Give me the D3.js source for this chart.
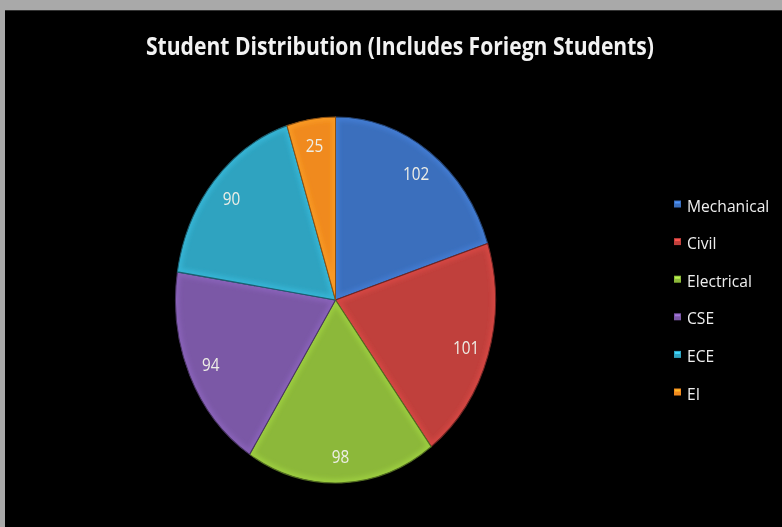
<!DOCTYPE html>
<html>
<head>
<meta charset="utf-8">
<script src="https://cdn.jsdelivr.net/npm/d3@7/dist/d3.min.js"></script>
<style>
  html, body { margin: 0; padding: 0; background: #a9a9a9; }
  svg { display: block; }
</style>
</head>
<body>
<svg id="chart" width="782" height="527"></svg>
<script>
const categories = ["Mechanical", "Civil", "Electrical", "CSE", "ECE", "EI"];
const values = [102, 101, 98, 94, 90, 25];
const colors = ["#3b6fbd", "#c0403c", "#8cb83a", "#7b58a6", "#2fa3c0", "#f08a1e"];
const titleText = "Student Distribution (Includes Foriegn Students)";

const W = 782, H = 527;
const FONT = "'Open Sans', sans-serif";
const svg = d3.select("#chart");

// chart area background
svg.append("rect").attr("x", 0).attr("y", 0).attr("width", W).attr("height", H).attr("fill", "#a9a9a9");
svg.append("rect").attr("x", 5).attr("y", 10).attr("width", W - 5).attr("height", H - 10).attr("fill", "#000");
svg.append("line").attr("x1", 5).attr("x2", W).attr("y1", 10.5).attr("y2", 10.5).attr("stroke", "#333").attr("stroke-width", 1);

const defs = svg.append("defs");
const blur = defs.append("filter").attr("id", "soft").attr("x", "-10%").attr("y", "-10%").attr("width", "120%").attr("height", "120%");
blur.append("feGaussianBlur").attr("stdDeviation", 2);
const textSoft = defs.append("filter").attr("id", "textSoft");
textSoft.append("feGaussianBlur").attr("stdDeviation", 0.35);

// title
svg.append("text")
  .attr("x", 400).attr("y", 55)
  .attr("text-anchor", "middle")
  .attr("fill", "#f2f2f2")
  .attr("font-family", FONT)
  .attr("font-weight", "bold")
  .attr("font-size", 25)
  .attr("textLength", 508)
  .attr("lengthAdjust", "spacingAndGlyphs")
  .attr("filter", "url(#textSoft)")
  .text(titleText);

// pie, drawn as a circle then stretched vertically
const cx = 335.5, cy = 300, r = 160, yScale = 183 / 160;
const pie = d3.pie().sort(null).value(d => d)(values);
const arc = d3.arc().innerRadius(0).outerRadius(r);
const labelArc = d3.arc().innerRadius(137).outerRadius(137);

const g = svg.append("g").attr("transform", `translate(${cx},${cy}) scale(1,${yScale})`);

pie.forEach((p, i) => {
  const clipId = "clip" + i;
  defs.append("clipPath").attr("id", clipId).append("path").attr("d", arc(p));
  const base = d3.color(colors[i]);
  g.append("path").attr("d", arc(p)).attr("fill", base.toString());
  // soft lighter bevel along the slice edges
  g.append("g").attr("clip-path", `url(#${clipId})`)
    .append("path").attr("d", arc(p))
    .attr("fill", "none")
    .attr("stroke", base.brighter(0.5).toString())
    .attr("stroke-opacity", 0.55)
    .attr("stroke-width", 7)
    .attr("filter", "url(#soft)");
  g.append("path").attr("d", arc(p))
    .attr("fill", "none")
    .attr("stroke", base.darker(1.5).toString())
    .attr("stroke-width", 1);
});

// value labels, slightly condensed
pie.forEach((p, i) => {
  const [lx, ly] = labelArc.centroid(p);
  svg.append("text")
    .attr("transform", `translate(${cx + lx},${cy + ly * yScale + 6.5}) scale(0.85,1)`)
    .attr("text-anchor", "middle")
    .attr("fill", "#eeeee6")
    .attr("font-family", FONT)
    .attr("font-size", 18)
    .attr("filter", "url(#textSoft)")
    .text(values[i]);
});

// legend
const legend = svg.append("g");
const ly0 = 211.5, lstep = 37.6;
categories.forEach((c, i) => {
  const y = ly0 + i * lstep;
  const base = d3.color(colors[i]);
  legend.append("rect").attr("x", 674).attr("y", y - 11).attr("width", 7).attr("height", 7).attr("fill", base.toString());
  legend.append("rect").attr("x", 675).attr("y", y - 10).attr("width", 5).attr("height", 2).attr("fill", base.brighter(0.8).toString());
  legend.append("text")
    .attr("transform", `translate(687,${y}) scale(0.92,1)`)
    .attr("fill", "#eeeeee")
    .attr("font-family", FONT)
    .attr("font-size", 17)
    .attr("filter", "url(#textSoft)")
    .text(c);
});
</script>
</body>
</html>
